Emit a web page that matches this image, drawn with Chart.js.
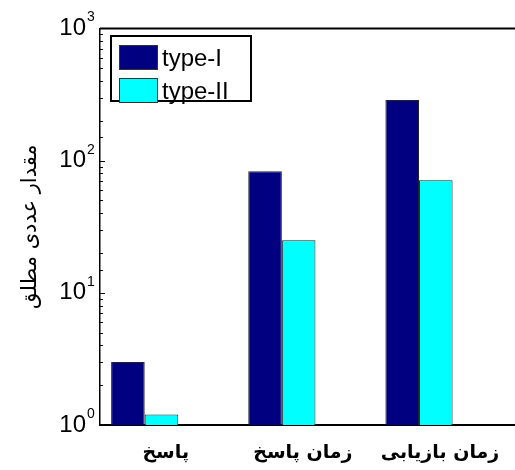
<!DOCTYPE html>
<html>
<head>
<meta charset="utf-8">
<script src="https://cdn.jsdelivr.net/npm/chart.js@4/dist/chart.umd.min.js"></script>
<style>
    html, body { margin: 0; padding: 0; background: #fff; }
    #wrap { position: relative; width: 515px; height: 470px; }
    #legend {
        position: absolute; left: 110px; top: 35px; width: 142px; height: 67px;
        box-sizing: border-box; border: 2px solid #000; background: #fff;
        padding: 4px 0 0 7px;
        font: 24px "Liberation Sans", Arial, sans-serif; color: #000;
    }
    #legend .row { display: flex; align-items: center; height: 33px; }
    #legend .sw { width: 39px; height: 25px; box-sizing: border-box; border: 1px solid #333; margin-right: 4px; }
</style>
</head>
<body>
<div id="wrap">
    <canvas id="chart" width="515" height="470"></canvas>
    <div id="legend"></div>
</div>
<script>
// data
const categories = ['پاسخ', 'زمان پاسخ', 'زمان بازیابی'];
const typeI = [3.0, 83, 287];
const typeII = [1.2, 25, 71];
const yTicks = [1, 10, 100, 1000];
const yTickLabels = ['0', '1', '2', '3'];

const NAVY = '#000080';
const CYAN = '#00FFFF';

// inward log ticks, top frame line and the 10^n exponents
const axisDecor = {
    id: 'axisDecor',
    afterDraw(chart) {
        const { ctx, chartArea, scales: { y } } = chart;
        ctx.save();
        ctx.strokeStyle = '#000';
        ctx.lineWidth = 1;
        y.ticks.forEach((t) => {
            const major = yTicks.includes(t.value);
            const py = Math.round(y.getPixelForValue(t.value)) + 0.5;
            ctx.beginPath();
            ctx.moveTo(chartArea.left, py);
            ctx.lineTo(chartArea.left + (major ? 5 : 3), py);
            ctx.stroke();
        });
        ctx.lineWidth = 2;
        ctx.beginPath();
        ctx.moveTo(chartArea.left, chartArea.top);
        ctx.lineTo(chartArea.right, chartArea.top);
        ctx.stroke();

        ctx.fillStyle = '#000';
        ctx.font = '14px "Liberation Sans", Arial, sans-serif';
        ctx.textAlign = 'left';
        ctx.textBaseline = 'alphabetic';
        yTicks.forEach((v, i) => {
            const py = y.getPixelForValue(v);
            ctx.fillText(yTickLabels[i], chartArea.left - 13, py - 7);
        });
        ctx.restore();
    },
};

const chart = new Chart(document.getElementById('chart').getContext('2d'), {
    type: 'bar',
    data: {
        datasets: [
            {
                label: 'type-I',
                data: typeI.map((v, i) => ({ x: i + 1, y: v })),
                backgroundColor: NAVY,
                borderColor: '#222',
                borderWidth: 1,
            },
            {
                label: 'type-II',
                data: typeII.map((v, i) => ({ x: i + 1, y: v })),
                backgroundColor: CYAN,
                borderColor: '#222',
                borderWidth: 1,
            },
        ],
    },
    options: {
        responsive: false,
        animation: false,
        events: [],
        layout: { padding: { top: 25, right: 0, left: 0, bottom: 0 } },
        datasets: { bar: { categoryPercentage: 0.49, barPercentage: 1 } },
        plugins: {
            legend: { display: false },
            tooltip: { enabled: false },
        },
        scales: {
            x: {
                type: 'linear',
                min: 0.674,
                max: 3.70,
                offset: false,
                afterFit: (s) => { s.height = 45; },
                afterBuildTicks: (s) => { s.ticks = categories.map((_, i) => ({ value: i + 1 })); },
                grid: { display: false, drawTicks: false },
                border: { display: true, color: '#000', width: 2 },
                ticks: {
                    autoSkip: false,
                    maxRotation: 0,
                    padding: 17,
                    labelOffset: 21,
                    color: '#000',
                    font: { family: '"DejaVu Sans", sans-serif', size: 19, weight: 'bold' },
                    callback: (v) => categories[v - 1] || '',
                },
            },
            y: {
                type: 'logarithmic',
                min: 1,
                max: 1000,
                afterFit: (s) => { s.width = 100; },
                grid: { display: false, drawTicks: false },
                border: { display: true, color: '#000', width: 1.5 },
                title: {
                    display: true,
                    text: 'مقدار عددی مطلق',
                    color: '#000',
                    padding: { top: 18, bottom: 0 },
                    font: { family: '"DejaVu Sans", sans-serif', size: 21 },
                },
                ticks: {
                    autoSkip: false,
                    padding: 14,
                    color: '#000',
                    font: { family: '"Liberation Sans", Arial, sans-serif', size: 24 },
                    callback: (v) => (yTicks.includes(v) ? '10' : ''),
                },
            },
        },
    },
    plugins: [axisDecor],
});

// legend placed inside the plot like the original
const legendEl = document.getElementById('legend');
chart.data.datasets.forEach((ds) => {
    const row = document.createElement('div');
    row.className = 'row';
    row.innerHTML = `<div class="sw" style="background:${ds.backgroundColor}"></div><span>${ds.label}</span>`;
    legendEl.appendChild(row);
});
</script>
</body>
</html>
